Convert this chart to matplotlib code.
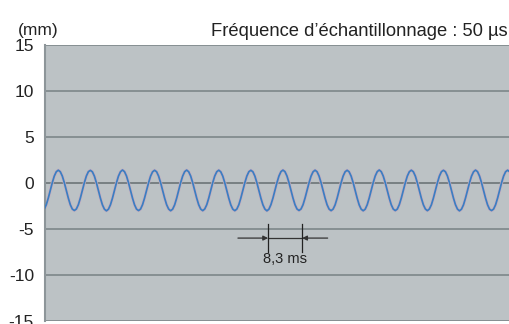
import matplotlib.pyplot as plt
import numpy as np

plt.rcParams["font.family"] = ["Liberation Sans", "DejaVu Sans"]

# displacement samples (mm), 16 samples per 8.3 ms period, first sample on a trough
SAMPLE_START_MS = -0.71
SAMPLE_STEP_MS = 8.3 / 16
DISPLACEMENT_MM = [
    -3.00, -2.83, -2.36, -1.64, -0.80, 0.04, 0.76, 1.23, 1.40, 1.23, 0.76, 0.04, -0.80, -1.64, -2.36, -2.83,
    -2.98, -2.82, -2.35, -1.63, -0.79, 0.05, 0.77, 1.24, 1.38, 1.22, 0.75, 0.03, -0.81, -1.65, -2.37, -2.84,
    -3.02, -2.84, -2.36, -1.64, -0.80, 0.04, 0.76, 1.23, 1.42, 1.24, 0.77, 0.04, -0.80, -1.64, -2.36, -2.83,
    -2.99, -2.83, -2.35, -1.63, -0.80, 0.03, 0.75, 1.22, 1.39, 1.23, 0.76, 0.05, -0.79, -1.63, -2.35, -2.82,
    -3.01, -2.84, -2.37, -1.65, -0.81, 0.04, 0.76, 1.24, 1.41, 1.23, 0.76, 0.04, -0.80, -1.64, -2.36, -2.83,
    -3.00, -2.82, -2.36, -1.64, -0.80, 0.05, 0.77, 1.23, 1.40, 1.22, 0.75, 0.03, -0.81, -1.65, -2.37, -2.84,
    -3.00, -2.83, -2.36, -1.63, -0.79, 0.04, 0.76, 1.23, 1.39, 1.23, 0.76, 0.04, -0.80, -1.64, -2.36, -2.83,
    -3.02, -2.84, -2.35, -1.64, -0.80, 0.04, 0.76, 1.24, 1.41, 1.24, 0.77, 0.05, -0.79, -1.63, -2.35, -2.82,
    -2.98, -2.82, -2.36, -1.64, -0.80, 0.03, 0.75, 1.22, 1.40, 1.23, 0.76, 0.04, -0.80, -1.64, -2.36, -2.83,
    -3.00, -2.83, -2.37, -1.65, -0.81, 0.04, 0.76, 1.23, 1.39, 1.22, 0.75, 0.04, -0.80, -1.64, -2.37, -2.84,
    -3.01, -2.84, -2.36, -1.63, -0.79, 0.05, 0.77, 1.24, 1.42, 1.24, 0.76, 0.04, -0.80, -1.64, -2.36, -2.83,
    -2.99, -2.83, -2.35, -1.64, -0.80, 0.04, 0.76, 1.23, 1.40, 1.23, 0.76, 0.03, -0.81, -1.65, -2.36, -2.82,
    -3.00, -2.82, -2.36, -1.64, -0.80, 0.04, 0.76, 1.23, 1.39, 1.23, 0.77, 0.05, -0.79, -1.63, -2.35, -2.83,
    -3.02, -2.84, -2.37, -1.64, -0.80, 0.03, 0.75, 1.22, 1.41, 1.24, 0.76, 0.04, -0.80, -1.64, -2.36, -2.84,
    -2.99, -2.83, -2.36, -1.64, -0.80, 0.04, 0.76, 1.23, 1.40, 1.23,
]
Y_TICKS = [15, 10, 5, 0, -5, -10, -15]
TIME_RANGE_MS = (0, 120)
PERIOD_LABEL = "8,3 ms"

BACKGROUND = "#bcc2c5"
GRID_COLOR = "#7d868a"
WAVE_COLOR = "#3b7ec2"


def main():
    times = SAMPLE_START_MS + np.arange(len(DISPLACEMENT_MM)) * SAMPLE_STEP_MS

    figure = plt.figure(figsize=(5.09, 3.24), dpi=100)
    axis = figure.add_axes([0.0884, 0.009, 0.9116, 0.852])
    axis.set_facecolor(BACKGROUND)

    for value in Y_TICKS:
        color = "#6c7478" if value == 0 else GRID_COLOR
        axis.axhline(value, color=color, linewidth=1.2, zorder=1)

    # faint pink halo under the trace, as in the printed original
    axis.plot(times, DISPLACEMENT_MM, color="#c4aebf", linewidth=2.2, zorder=2)
    axis.plot(times, DISPLACEMENT_MM, color=WAVE_COLOR, linewidth=1.25, zorder=3)

    # period dimension
    left_x, right_x, arrow_y = 57.7, 66.5, -5.98
    for x in (left_x, right_x):
        axis.plot([x, x], [-4.45, -7.5], color="#222222", linewidth=0.9, zorder=4)
    axis.annotate("", xy=(left_x, arrow_y), xytext=(49.9, arrow_y),
                  arrowprops=dict(arrowstyle="-|>", color="#333333", lw=0.9,
                                  mutation_scale=7, shrinkA=0, shrinkB=0))
    axis.annotate("", xy=(right_x, arrow_y), xytext=(73.1, arrow_y),
                  arrowprops=dict(arrowstyle="-|>", color="#333333", lw=0.9,
                                  mutation_scale=7, shrinkA=0, shrinkB=0))
    axis.plot([left_x, right_x], [arrow_y, arrow_y], color="#333333", linewidth=0.9)
    axis.text((left_x + right_x) / 2, -8.25, PERIOD_LABEL, ha="center", va="center",
              fontsize=10.5, color="#222222")

    axis.set_xlim(*TIME_RANGE_MS)
    axis.set_ylim(-15, 15)
    axis.set_yticks(Y_TICKS)
    axis.set_yticklabels([str(v) for v in Y_TICKS])
    axis.set_xticks([])
    axis.tick_params(axis="y", length=0, pad=8, labelsize=12.5, colors="#222222")
    for side in ("top", "right", "bottom"):
        axis.spines[side].set_visible(False)
    axis.spines["left"].set_color("#8d9599")
    axis.spines["left"].set_linewidth(1.5)

    figure.text(38 / 509, 1 - 30 / 324, "(mm)", ha="center", va="center",
                fontsize=12.5, color="#222222")
    figure.text(508 / 509, 1 - 31 / 324, "Fréquence d’échantillonnage : 50 µs",
                ha="right", va="center", fontsize=13.2, color="#222222")

    figure.savefig("out.png", dpi=100)
    plt.close(figure)


if __name__ == "__main__":
    main()
